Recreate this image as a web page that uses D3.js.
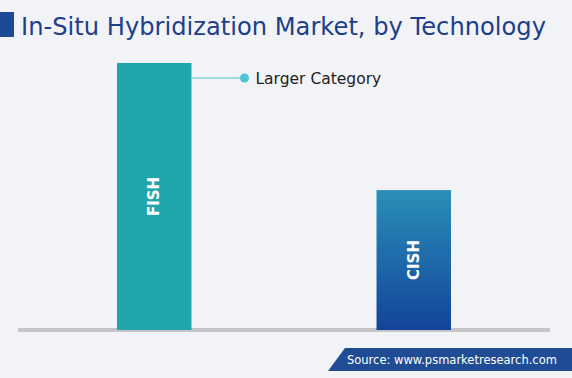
<!DOCTYPE html>
<html>
<head>
<meta charset="utf-8">
<script src="https://cdn.jsdelivr.net/npm/d3@7"></script>
<style>
  body { margin: 0; background: #f2f3f7; }
  svg { display: block; }
</style>
</head>
<body>
<div id="chart"></div>
<script>
const categories = ["FISH", "CISH"];
const values = [100, 52.4];
const titleText = "In-Situ Hybridization Market, by Technology";
const calloutText = "Larger Category";
const sourceText = "Source: www.psmarketresearch.com";

const width = 572, height = 378;
const margin = {top: 63, right: 22, bottom: 48, left: 18};
const baseY = height - margin.bottom;

const svg = d3.select("#chart").append("svg")
  .attr("width", width)
  .attr("height", height)
  .style("font-family", "'Century Gothic', 'DejaVu Sans', sans-serif");

svg.append("rect").attr("width", width).attr("height", height).attr("fill", "#f2f3f7");

// gradient for CISH
const defs = svg.append("defs");
const grad = defs.append("linearGradient").attr("id", "cishGrad")
  .attr("x1", 0).attr("y1", 0).attr("x2", 0).attr("y2", 1);
grad.append("stop").attr("offset", "0%").attr("stop-color", "#2a8fb8");
grad.append("stop").attr("offset", "100%").attr("stop-color", "#12449a");

// title
svg.append("rect").attr("x", 0).attr("y", 12).attr("width", 14).attr("height", 25).attr("fill", "#1d4a94");
svg.append("text")
  .attr("x", 21).attr("y", 35)
  .attr("fill", "#1d3f8c")
  .attr("font-size", 25)
  .attr("textLength", 525)
  .attr("lengthAdjust", "spacingAndGlyphs")
  .text(titleText);

const x = d3.scaleBand()
  .domain(categories)
  .range([margin.left, width - margin.right])
  .paddingInner(0.713)
  .paddingOuter(0.3815);

const y = d3.scaleLinear()
  .domain([0, 100])
  .range([baseY, margin.top]);

// axis baseline
svg.append("rect")
  .attr("x", margin.left).attr("y", baseY - 2)
  .attr("width", width - margin.right - margin.left).attr("height", 4)
  .attr("fill", "#c4c5c9");

const data = categories.map((c, i) => ({cat: c, val: values[i]}));
const fills = ["#20a5ab", "url(#cishGrad)"];

svg.selectAll(".bar")
  .data(data)
  .enter().append("rect")
  .attr("class", "bar")
  .attr("x", d => x(d.cat))
  .attr("y", d => y(d.val))
  .attr("width", x.bandwidth())
  .attr("height", d => baseY - y(d.val))
  .attr("fill", (d, i) => fills[i]);

svg.selectAll(".barlabel")
  .data(data)
  .enter().append("text")
  .attr("class", "barlabel")
  .attr("transform", d => "translate(" + (x(d.cat) + x.bandwidth() / 2 + 5) + "," + ((y(d.val) + baseY) / 2) + ") rotate(-90)")
  .attr("text-anchor", "middle")
  .attr("fill", "#ffffff")
  .attr("font-weight", "bold")
  .attr("font-size", 15)
  .text(d => d.cat);

// callout on the larger bar
const big = data[0];
const cy = y(big.val) + 15;
const bx = x(big.cat) + x.bandwidth();
svg.append("line")
  .attr("x1", bx).attr("y1", cy).attr("x2", bx + 53).attr("y2", cy)
  .attr("stroke", "#86d3de").attr("stroke-width", 1.5);
svg.append("circle")
  .attr("cx", bx + 53).attr("cy", cy).attr("r", 4.5)
  .attr("fill", "#4cc3d6");
svg.append("text")
  .attr("x", bx + 64).attr("y", cy + 6)
  .attr("fill", "#222")
  .attr("font-size", 15.5)
  .text(calloutText);

// source banner
svg.append("path")
  .attr("d", "M345,348 L572,348 L572,371 L328,371 Z")
  .attr("fill", "#1f4c94");
svg.append("text")
  .attr("x", 347).attr("y", 364)
  .attr("fill", "#ffffff")
  .attr("font-size", 11.5)
  .text(sourceText);
</script>
</body>
</html>
